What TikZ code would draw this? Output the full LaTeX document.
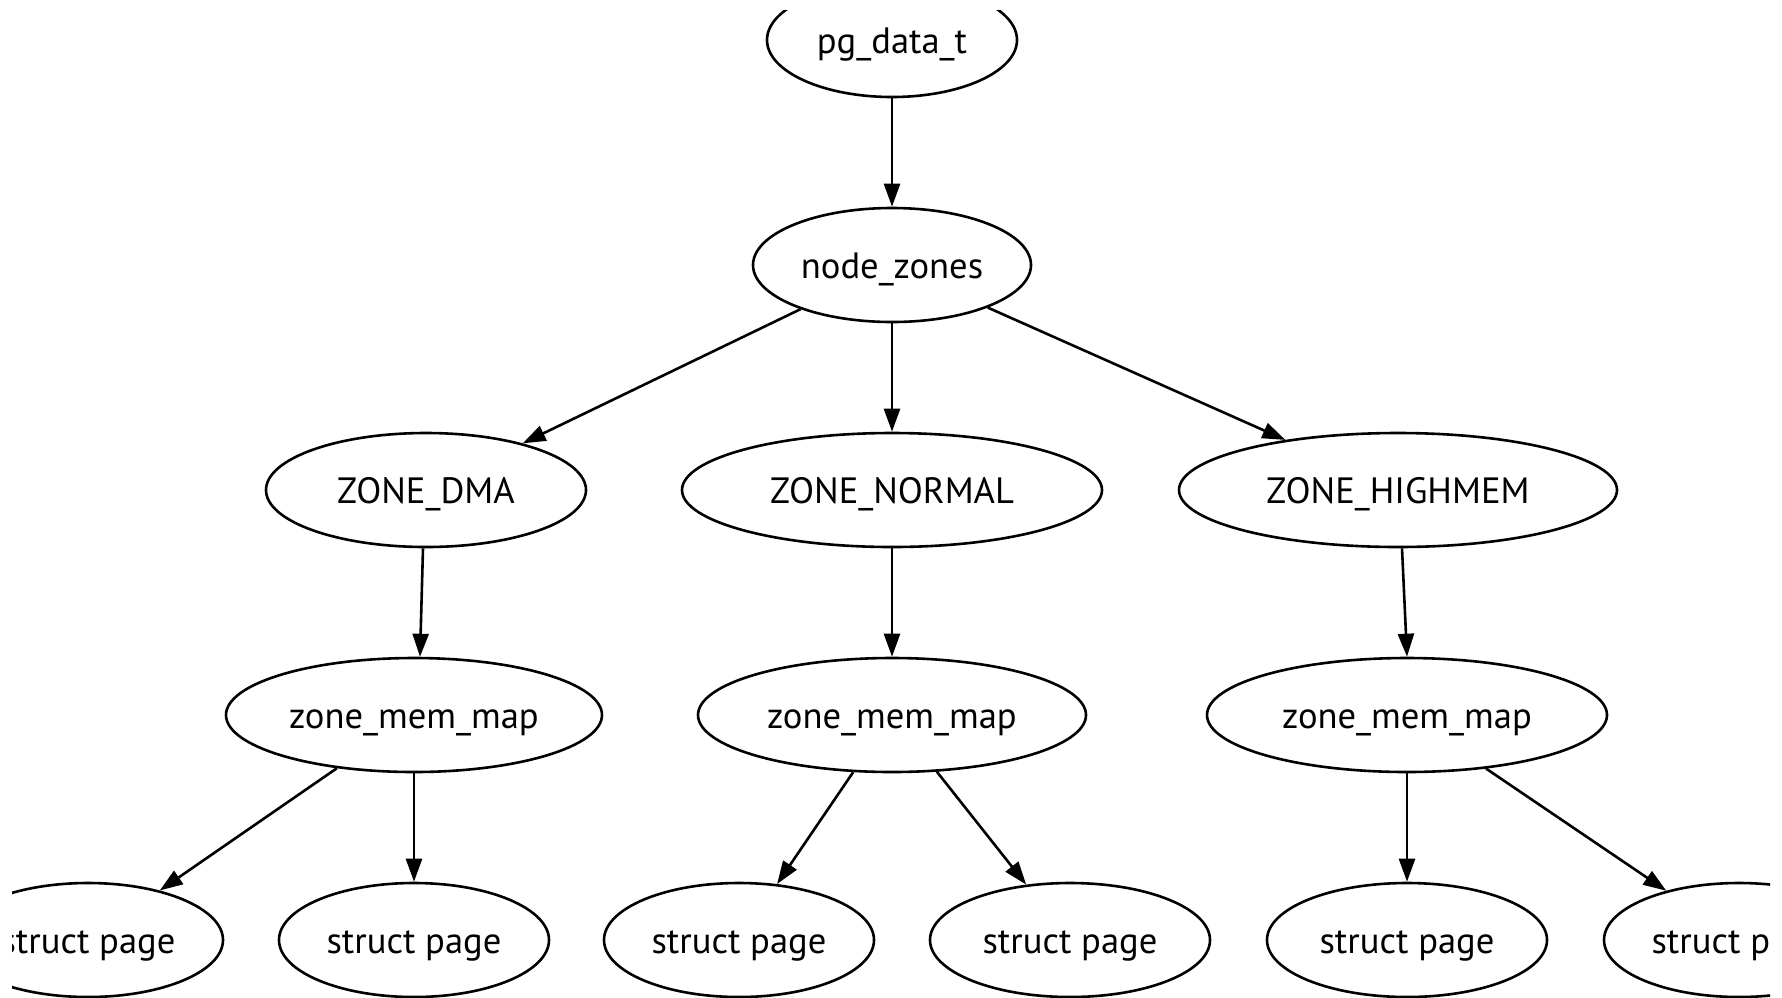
\documentclass[tikz,border=0pt]{standalone}
\usepackage{fontspec}
\setmainfont{PT Sans}
\usetikzlibrary{shapes.geometric,arrows.meta}
\tikzset{
  gnode/.style={ellipse,draw,line width=1.3pt,inner sep=0pt,minimum height=57pt,text height=13.5pt,text depth=0pt,font=\fontsize{18.3}{20}\selectfont},
  gedge/.style={draw,line width=1.3pt,-{Triangle[length=11.5pt,width=8pt]}}
}
\begin{document}
\begin{tikzpicture}[x=0.5pt,y=-0.5pt]
\useasboundingbox (0,0) rectangle (1782,997);
\begin{scope}
\clip (12,10) rectangle (1770,997);
\node[gnode,minimum width=125pt] (pg) at (892,40) {pg\_data\_t};
\node[gnode,minimum width=139pt] (nz) at (892,265) {node\_zones};
\node[gnode,minimum width=160pt] (dma) at (426,490) {ZONE\_DMA};
\node[gnode,minimum width=210pt] (normal) at (892,490) {ZONE\_NORMAL};
\node[gnode,minimum width=219pt] (high) at (1398,490) {ZONE\_HIGHMEM};
\node[gnode,minimum width=188pt] (m1) at (414,715) {zone\_mem\_map};
\node[gnode,minimum width=194pt] (m2) at (892,715) {zone\_mem\_map};
\node[gnode,minimum width=200pt] (m3) at (1407,715) {zone\_mem\_map};
\node[gnode,minimum width=135pt] (s1) at (88,940) {struct page};
\node[gnode,minimum width=135pt] (s2) at (414,940) {struct page};
\node[gnode,minimum width=135pt] (s3) at (739,940) {struct page};
\node[gnode,minimum width=140pt] (s4) at (1070,940) {struct page};
\node[gnode,minimum width=140pt] (s5) at (1407,940) {struct page};
\node[gnode,minimum width=135pt] (s6) at (1739,940) {struct page};
\draw[gedge] (pg) -- (nz);
\draw[gedge] (nz) -- (dma);
\draw[gedge] (nz) -- (normal);
\draw[gedge] (nz) -- (high);
\draw[gedge] ([xshift=-1.5pt]dma.south) -- ([xshift=3pt]m1.north);
\draw[gedge] (normal) -- (m2);
\draw[gedge] ([xshift=2pt]high.south) -- (m3.north);
\draw[gedge] (m1) -- (s1);
\draw[gedge] (m1) -- (s2);
\draw[gedge] (m2) -- (s3);
\draw[gedge] (m2) -- (s4);
\draw[gedge] (m3) -- (s5);
\draw[gedge] (m3) -- (s6);
\end{scope}
\end{tikzpicture}
\end{document}
